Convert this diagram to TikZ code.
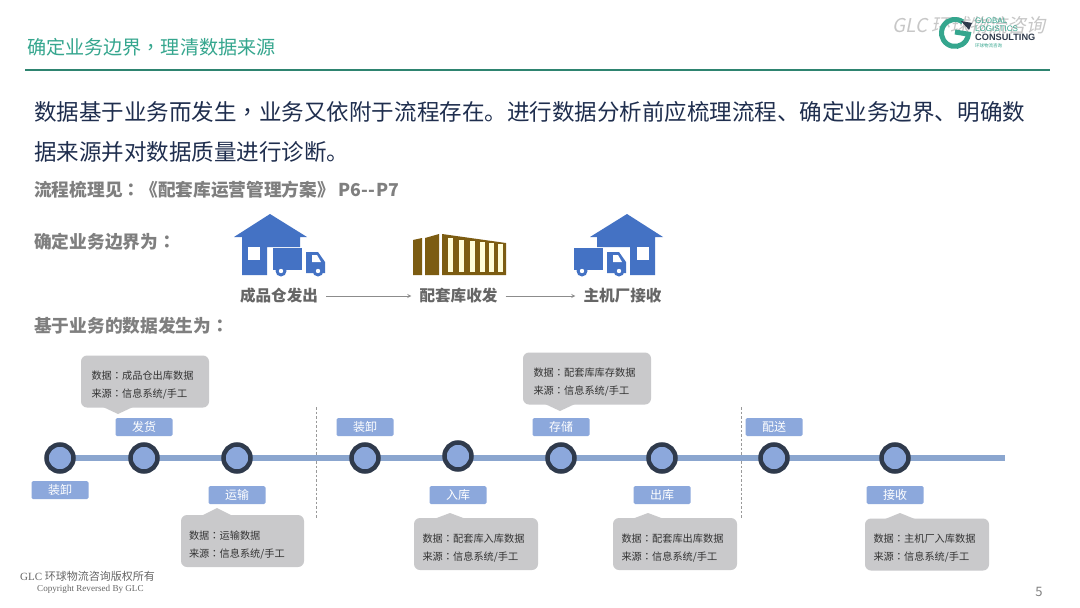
\documentclass[tikz,border=0pt]{standalone}
\usepackage{fontspec}
\setmainfont{Noto Sans CJK SC}
\newfontfamily\punctfont{Noto Sans CJK TC}
\newfontfamily\slantfont[FakeSlant=0.2]{Noto Sans CJK SC}
\newfontfamily\serifcopy{Liberation Serif}
\newfontfamily\headfont{Liberation Sans}
\definecolor{tealhead}{HTML}{35A68E}
\definecolor{tealline}{HTML}{2E8470}
\definecolor{navytext}{HTML}{1F2E4E}
\definecolor{graytext}{HTML}{7F7F7F}
\definecolor{iconblue}{HTML}{4472C4}
\definecolor{boxblue}{HTML}{8CA8DC}
\definecolor{lineblue}{HTML}{8BA6CF}
\definecolor{ringdark}{HTML}{2F3A4C}
\definecolor{bubble}{HTML}{C9C9CB}
\definecolor{boxbrown}{HTML}{7C5C12}
\newcommand{\cma}{{\punctfont ，}}
\newcommand{\cln}{{\punctfont ：}}
\newcommand{\srcline}{来源\cln 信息系统/手工}
\tikzset{
  lefttext/.style={anchor=west,inner sep=0pt},
  lead/.style={lefttext,text=navytext,font=\fontsize{22.52}{23}\selectfont},
  subhead/.style={lefttext,text=graytext,font=\fontsize{17.7}{17}\selectfont\bfseries},
  flowname/.style={text=black!60,inner sep=8pt,font=\fontsize{15.6}{16}\selectfont\bfseries},
  flowarrow/.style={->,>=stealth,draw=black!45,line width=0.8pt},
  stage/.style={circle,draw=ringdark,line width=4.5pt,fill=boxblue,minimum size=27pt,inner sep=0pt},
  tag/.style={fill=boxblue,text=white,rounded corners=1.5pt,minimum width=57pt,minimum height=18pt,inner sep=0pt,font=\fontsize{12}{12}\selectfont},
  note/.style={fill=bubble,rounded corners=6pt,minimum height=52pt,inner sep=0pt,
    text width=107pt,align=left,text=black!80,font=\fontsize{10.2}{18}\selectfont},
  house/.pic={
    \fill[iconblue] (0,0)--(37,23)--(30,23)--(30,33)--(-3,33)--(-3,61)--(-28,61)--(-28,23)--(-36,23)--cycle;
    \fill[white] (-22,33) rectangle (-10,46);
  },
  truck/.pic={
    \fill[iconblue] (0,0) rectangle (29,22);
    \fill[iconblue] (33,4)--(45,4)--(52,14)--(52,25)--(33,25)--cycle;
    \fill[white] (39,7)--(44,7)--(48,14)--(39,14)--cycle;
    \foreach \w in {8,45}{\fill[iconblue] (\w,23) circle (5.5);\fill[white] (\w,23) circle (2.2);}
  }
}
\begin{document}
\begin{tikzpicture}[x=1pt,y=-1pt]
\useasboundingbox[fill=white] (0,0) rectangle (1080,608);
% header
\node[anchor=west,inner sep=0pt,text=black!22,font=\slantfont\fontsize{19}{19}\selectfont] (mark) at (892,25) {GLC 环球物流咨询};
\draw[tealhead,line width=5pt] (962.7,21.9) arc (-55:-355:13.5)--(955,32);
\fill[ringdark] (961,21)--(972,23)--(969,30)--cycle;
\node[lefttext,text=tealhead,font=\headfont\fontsize{8}{8}\selectfont] (gl) at (975,20.5) {GLOBAL};
\node[lefttext,text=tealhead,font=\headfont\fontsize{8}{8}\selectfont] (lo) at (975,29) {LOGISTICS};
\node[lefttext,text=ringdark,font=\headfont\fontsize{9.2}{9}\selectfont\bfseries] (co) at (975,37.5) {CONSULTING};
\node[lefttext,text=tealhead,font=\fontsize{4.5}{5}\selectfont] (cn) at (975,46) {环球物流咨询};
\node[lefttext,text=tealhead,font=\fontsize{19.1}{19}\selectfont] (title) at (27,47) {确定业务边界\cma 理清数据来源};
\draw[tealline,line width=1.5pt] (25,70)--(1050,70);
% text
\node[lead] (lineA) at (34,112) {数据基于业务而发生\cma 业务又依附于流程存在。进行数据分析前应梳理流程、确定业务边界、明确数};
\node[lead] (lineB) at (34,152) {据来源并对数据质量进行诊断。};
\node[subhead] (seeflow) at (34,190) {流程梳理见\cln 《配套库运营管理方案》\kern3pt P6{-}\kern1pt{-}\kern1pt P7};
\node[subhead] (bound) at (34,242) {确定业务边界为\cln};
\node[subhead] (datafrom) at (34,326) {基于业务的数据发生为\cln};
% icons
\pic at (270,214) {house};
\pic at (273,248) {truck};
\pic[xscale=-1] at (627,214) {house};
\pic at (574,248) {truck};
\fill[boxbrown] (413,240)--(422,238)--(422,275)--(413,275)--cycle;
\fill[boxbrown] (425,238)--(439,234)--(439,275)--(425,275)--cycle;
\fill[boxbrown] (442,234)--(506,243)--(506,275)--(442,275)--cycle;
\foreach \x/\y in {450/238,461/240,472/241,482/242,491/243,500/244}{\fill[white!85!yellow] (\x-2.5,\y) rectangle (\x+2.5,272);}
\node[flowname] (fromstore) at (279,296) {成品仓发出};
\node[flowname] (yard) at (458.5,296) {配套库收发};
\node[flowname] (plant) at (622.5,296) {主机厂接收};
\draw[flowarrow] (fromstore)--(yard);
\draw[flowarrow] (yard)--(plant);
% timeline
\foreach \x in {316,741}{\draw[black!40,line width=1pt,dash pattern=on 2.5pt off 2pt] (\x,407)--(\x,518);}
\coordinate (linestart) at (60,458);
\coordinate (lineend) at (1005,458);
\draw[lineblue,line width=5.5pt] (linestart)--(lineend);
\foreach \n/\x/\y in {1/60/458,2/144/458,3/237/458,4/365/458,5/458/456,6/561/458,7/662/458,8/774/458,9/895/458}{\node[stage] (s\n) at (\x,\y) {};}
\foreach \n/\x/\y/\s in {1/60/490/装卸,2/144/427/发货,3/237/495/运输,4/365/427/装卸,5/458/495/入库,6/561/427/存储,7/662/495/出库,8/774/427/配送,9/895/495/接收}{\node[tag] (t\n) at (\x,\y) {\s};}
% notes
\foreach \n/\x/\y/\w/\d/\px/\py/\s in {2/145/381.5/128/25/118/414/成品仓出库数据,3/242.5/541/123/-25/217/508/运输数据,6/587/378.5/128/25/560/411/配套库库存数据,5/476/544/124/-25/450/513/配套库入库数据,7/675/544/124/-25/648/513/配套库出库数据,9/927/544.5/124/-25/900/513/主机厂入库数据}{
\fill[bubble] (\px-16,\y+\d)--(\px,\py)--(\px+16,\y+\d)--cycle;
\node[note,minimum width=\w pt] (n\n) at (\x,\y) {\rule{0pt}{16pt}数据\cln\s\\\srcline};}
% footer
\node[lefttext,text=black!60,font=\fontsize{11}{11}\selectfont] (rights) at (20,576) {{\serifcopy GLC }环球物流咨询版权所有};
\node[lefttext,text=black!60,font=\serifcopy\fontsize{9.1}{9}\selectfont] (copyr) at (37,589) {Copyright Reversed By GLC};
\node[text=black!50,inner sep=0pt,font=\fontsize{13}{13}\selectfont] (page) at (1039,592) {5};
\end{tikzpicture}
\end{document}
